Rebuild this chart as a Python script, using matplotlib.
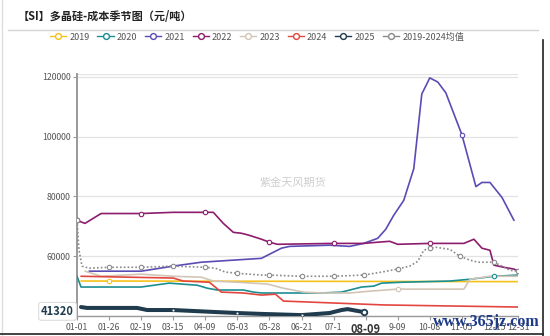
import matplotlib
matplotlib.use("Agg")
import matplotlib.pyplot as plt
from matplotlib.lines import Line2D
import numpy as np

plt.rcParams['font.family'] = ['Noto Sans CJK SC', 'DejaVu Sans']

# ---------------- data (x = trading-day index within the season) ----------------
tick_pos = [0, 8, 16, 24, 32, 40, 48, 56, 64, 72, 80, 88, 96, 104, 110]
tick_labels = ["01-01", "01-26", "02-19", "03-15", "04-09", "05-03", "05-28", "06-21",
               "07-1", "08-09", "9-09", "10-08", "11-05", "12-15", "12-31"]

x2019 = [1, 8, 60, 110]
y2019 = [51700, 51700, 51600, 51500]
m2019 = [8]

x2020 = [0, 1, 16, 23, 30, 32.5, 35, 41.5, 44, 46, 56, 61, 66, 71, 74, 76, 81, 93, 98, 104, 110]
y2020 = [53300, 49700, 49700, 51000, 50300, 49300, 48700, 48700, 48000, 47700, 47700, 47700,
         48000, 49700, 50000, 51000, 51300, 51700, 52300, 53300, 53700]
m2020 = [104]

x2021 = [3, 16, 24, 31, 39, 46, 51, 53, 63, 68, 71.5, 75, 77, 79, 81.5, 84, 86, 88, 90, 92,
         96, 99.5, 101, 103, 106, 109]
y2021 = [55000, 55000, 56700, 58000, 58700, 59300, 62700, 63300, 63700, 63300, 64300, 66000,
         69000, 73700, 78700, 89300, 114300, 119700, 118300, 114700, 100700, 83300, 84700,
         84700, 79700, 72000]
m2021 = [96]

x2022 = [0, 2, 6, 8, 16, 24, 32, 34, 36.5, 39, 41, 43, 46, 48, 50, 64, 71.5, 75, 78, 80, 88,
         96.5, 99, 101, 103, 104, 106.5, 109, 110]
y2022 = [72000, 71000, 74300, 74300, 74300, 74700, 74700, 74700, 71000, 68000, 67700, 67000,
         65700, 64700, 64000, 64300, 64300, 64700, 65000, 64000, 64300, 64300, 65700, 62700,
         62000, 57000, 56300, 55700, 55000]
m2022 = [0, 16, 32, 48, 64, 88]

x2023 = [2, 6, 16, 24, 31, 34, 40, 47.5, 51.5, 56.5, 61, 68, 73, 80, 96.5, 98, 103, 110]
y2023 = [55000, 53300, 54000, 53300, 53000, 51700, 51300, 50700, 49300, 48000, 47700, 47700,
         48300, 49000, 49000, 52300, 53300, 53300]
m2023 = [80]

x2024 = [1, 24, 26.5, 33, 36, 41.5, 46, 49.5, 51.5, 76.5, 110]
y2024 = [53300, 52700, 51700, 51300, 48000, 47700, 47000, 47300, 45000, 43700, 43000]
m2024 = []

x2025 = [1, 2.5, 15, 17.5, 24, 35, 40, 46, 56, 63, 66, 67.5, 71.5]
y2025 = [43000, 42700, 42700, 42000, 42000, 41300, 41000, 40700, 40300, 41000, 42000, 42300, 41320]
m2025 = [24, 40, 56]

xavg = [0, 0.5, 1.25, 3, 8, 16, 24, 32, 34.5, 37, 40, 46, 48, 56, 64, 71.5, 76, 80, 83, 85,
        86.5, 88, 89.5, 93, 95.5, 98, 100, 104, 106, 108, 110]
yavg = [72000, 62000, 56700, 56000, 56300, 56300, 56700, 56300, 56000, 54700, 54300, 53700,
        53700, 53300, 53300, 53700, 54700, 55700, 56700, 58300, 62000, 62700, 63000, 62300,
        60000, 58700, 58000, 58000, 56700, 55300, 55000]
mavg = [0, 8, 16, 24, 32, 40, 48, 56, 64, 71.5, 80, 88, 95.5, 104, 110]

latest_value = 41320

names = ["2019", "2020", "2021", "2022", "2023", "2024", "2025", "2019-2024均值"]
colors = ["#F5C21B", "#1B8E92", "#5A4CB5", "#8D1C6D", "#D3C5B5", "#E2463E", "#1F3B4D", "#8A8A8A"]

# ---------------- figure ----------------
W, H = 550, 336
fig = plt.figure(figsize=(W / 100, H / 100), dpi=100)
fig.patch.set_facecolor("white")

ax = fig.add_axes([77 / W, 1 - 316 / H, (518 - 77) / W, (316 - 74) / H])
ax.set_xlim(0, 110)
ax.set_ylim(40000, 121000)

series = [
    (x2019, y2019, m2019), (x2020, y2020, m2020), (x2021, y2021, m2021),
    (x2022, y2022, m2022), (x2023, y2023, m2023), (x2024, y2024, m2024),
    (x2025, y2025, m2025), (xavg, yavg, mavg),
]

for i, (xs, ys, ms) in enumerate(series):
    c = colors[i]
    lw = 1.2
    ls = "-"
    z = 3
    if names[i] == "2025":
        lw = 2.9
        z = 4
    if i == 7:
        ls = (0, (1, 1.3))
        lw = 1.2
        z = 5
    ax.plot(xs, ys, color=c, lw=lw, ls=ls, zorder=z, solid_capstyle="round")
    idx = [k for k, xv in enumerate(xs) if xv in ms]
    if idx:
        msz = 3.2 if i != 6 else 2.0
        ax.plot([xs[k] for k in idx], [ys[k] for k in idx], ls="none", marker="o",
                ms=msz, mfc="white", mec=c, mew=0.8 if i != 6 else 0.4, zorder=z + 1)
# final marker of 2025
ax.plot([x2025[-1]], [y2025[-1]], ls="none", marker="o", ms=4.0, mfc="white",
        mec=colors[6], mew=1.3, zorder=6)

# grid & spines
ax.set_yticks([40000, 60000, 80000, 100000, 120000])
ax.yaxis.grid(True, color="#E3E3E3", lw=0.9)
ax.set_axisbelow(True)
for s in ["top", "right"]:
    ax.spines[s].set_visible(False)
ax.axhline(121000, color="#E3E3E3", lw=0.9, zorder=0)
ax.spines["left"].set_color("#9A9A9A")
ax.spines["left"].set_linewidth(1.4)
ax.spines["bottom"].set_color("#9A9A9A")
ax.spines["bottom"].set_linewidth(1.0)
ax.tick_params(axis="y", length=3, width=0.8, color="#9A9A9A", labelsize=6.3,
               labelcolor="#555555", pad=1.5)
ax.set_yticklabels(["40000", "60000", "80000", "100000", "120000"])
ax.set_xticks(tick_pos)
ax.set_xticklabels(tick_labels)
ax.tick_params(axis="x", length=3, width=0.8, color="#9A9A9A", labelsize=6.3,
               labelcolor="#555555", pad=2)
for lab in ax.get_xticklabels():
    if lab.get_text() == "08-09":
        lab.set_fontweight("bold")
        lab.set_fontsize(8)
        lab.set_color("#333333")

# latest value box
ax.annotate(f"{latest_value}", xy=(0, latest_value), xycoords=("axes fraction", "data"),
            xytext=(-14, 0.5), textcoords="offset points", ha="center", va="center",
            fontsize=8, fontweight="bold", color="#1F3B4D", zorder=10, annotation_clip=False,
            bbox=dict(boxstyle="round,pad=0.22", fc="white", ec="#DDDDDD", lw=0.8))

# watermark
ax.text(0.49, 0.55, "紫金天风期货", transform=ax.transAxes, ha="center", va="center",
        fontsize=8, color="#CFCFCF", zorder=1)

# title
fig.text(18 / W, 1 - 17 / H, "【SI】多晶硅-成本季节图（元/吨）", ha="left", va="center",
         fontsize=8, fontweight="bold", color="#222222")
fig.add_artist(Line2D([8 / W, 538 / W], [1 - 30 / H, 1 - 30 / H], color="#D5D5D5", lw=1.0))

# legend
handles = []
for i, n in enumerate(names):
    handles.append(Line2D([0], [0], color=colors[i], lw=1.0, marker="o", ms=4.2,
                          mfc="white", mec=colors[i], mew=1.0))
leg = fig.legend(handles, names, loc="center", bbox_to_anchor=(257 / W, 1 - 37 / H), ncol=8,
                 frameon=False, fontsize=6.5, handlelength=1.8, handletextpad=0.35,
                 columnspacing=0.85, numpoints=1)
for t in leg.get_texts():
    t.set_color("#555555")

# frame lines
fig.add_artist(Line2D([2 / W, 2 / W], [0, 1], color="#DDDDDD", lw=1.0))
fig.add_artist(Line2D([543 / W, 543 / W], [0, 1 - 40 / H], color="#222222", lw=1.2))
fig.add_artist(Line2D([0, 543 / W], [1 - 334 / H, 1 - 334 / H], color="#222222", lw=1.2))

# site watermark
fig.text(486 / W, 1 - 322 / H, "www.365jz.com", ha="center", va="center", fontsize=11.5,
         fontweight="bold", color="#1D3A8A", family=["Liberation Serif", "DejaVu Serif"],
         zorder=20)

fig.savefig("out.png", dpi=100, facecolor="white")
